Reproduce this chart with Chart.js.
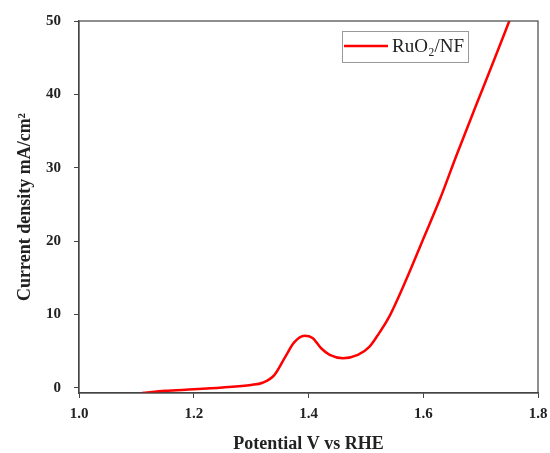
<!DOCTYPE html>
<html>
<head>
<meta charset="utf-8">
<script src="https://cdn.jsdelivr.net/npm/chart.js@4/dist/chart.umd.min.js"></script>
<style>
  html, body { margin: 0; padding: 0; background: #fff; }
  #wrap { width: 550px; height: 453px; }
</style>
</head>
<body>
<div id="wrap"><canvas id="lsv"></canvas></div>
<script>
'use strict';

/* ── Data ────────────────────────────────────────────────────────────────── */
const potential = [1.11, 1.15, 1.20, 1.25, 1.30, 1.32, 1.34, 1.36, 1.375, 1.393,
                   1.407, 1.422, 1.437, 1.46, 1.486, 1.506, 1.52, 1.54, 1.57, 1.60,
                   1.63, 1.657, 1.69, 1.72, 1.75];
const current   = [-0.7, -0.4, -0.2, 0.05, 0.4, 0.7, 1.7, 4.3, 6.2, 7.1,
                   6.8, 5.4, 4.5, 4.05, 4.5, 5.6, 7.1, 9.6, 14.7, 20.3,
                   25.9, 31.5, 38.1, 44.0, 50.0];
const yTicks    = [0, 10, 20, 30, 40, 50];
const seriesName = 'RuO₂/NF';

const SERIF = '"Liberation Serif", "Times New Roman", serif';
const INK   = '#222';

/* ── Frame + in-plot legend ──────────────────────────────────────────────── */
const frame = {
  id: 'frame',
  afterDraw(chart) {
    const { ctx, chartArea: a } = chart;
    ctx.save();
    ctx.strokeStyle = '#444';
    ctx.lineWidth = 1.2;
    ctx.strokeRect(a.left, a.top, a.right - a.left, a.bottom - a.top);

    // legend box
    const bx = 342, by = 31, bw = 126, bh = 31;
    ctx.fillStyle = '#fff';
    ctx.fillRect(bx, by, bw, bh);
    ctx.strokeStyle = '#999';
    ctx.lineWidth = 1;
    ctx.strokeRect(bx + 0.5, by + 0.5, bw, bh);
    ctx.strokeStyle = '#ff0000';
    ctx.lineWidth = 2.5;
    ctx.beginPath();
    ctx.moveTo(bx + 2, by + 15);
    ctx.lineTo(bx + 46, by + 15);
    ctx.stroke();
    ctx.fillStyle = INK;
    ctx.font = '19px ' + SERIF;
    ctx.textBaseline = 'middle';
    ctx.fillText(seriesName, bx + 50, by + 16);
    ctx.restore();
  },
};

new Chart(document.getElementById('lsv'), {
  type: 'line',
  data: {
    datasets: [{
      label: seriesName,
      data: potential.map((x, i) => ({ x, y: current[i] })),
      borderColor: '#ff0000',
      borderWidth: 2.5,
      pointRadius: 0,
      fill: false,
      cubicInterpolationMode: 'monotone',
    }],
  },
  options: {
    responsive: true,
    maintainAspectRatio: false,
    animation: false,
    layout: { padding: { top: 21, right: 12, left: 0, bottom: 0 } },
    plugins: { legend: { display: false }, tooltip: { enabled: false } },
    scales: {
      x: {
        type: 'linear',
        min: 1.0, max: 1.8,
        border: { color: '#444', width: 1.2 },
        grid: { drawOnChartArea: false, tickLength: 5, color: '#444' },
        ticks: {
          stepSize: 0.2,
          color: INK,
          padding: 7,
          font: { family: SERIF, size: 15, weight: 'bold' },
          callback: v => Number(v).toFixed(1),
        },
        title: {
          display: true,
          text: 'Potential V vs RHE',
          color: INK,
          padding: { top: 8, bottom: -2 },
          font: { family: SERIF, size: 18, weight: 'bold' },
        },
        afterFit: s => { s.height = 60; s.paddingLeft = 0; s.paddingRight = 0; },
      },
      y: {
        type: 'linear',
        min: -0.7, max: 50,
        border: { color: '#444', width: 1.2 },
        grid: { drawOnChartArea: false, tickLength: 5, color: '#444' },
        afterBuildTicks: s => { s.ticks = yTicks.map(v => ({ value: v })); },
        ticks: {
          color: INK,
          padding: 13,
          font: { family: SERIF, size: 15, weight: 'bold' },
        },
        title: {
          display: true,
          text: 'Current density mA/cm²',
          color: INK,
          padding: { top: 15, bottom: 0 },
          font: { family: SERIF, size: 18, weight: 'bold' },
        },
        afterFit: s => { s.width = 79; s.paddingTop = 0; s.paddingBottom = 0; },
      },
    },
  },
  plugins: [frame],
});
</script>
</body>
</html>
